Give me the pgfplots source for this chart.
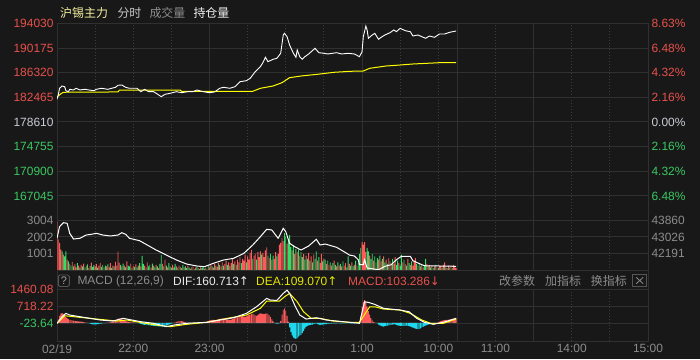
\documentclass[border=0pt]{standalone}
\usepackage{pgfplots}
\pgfplotsset{compat=1.18}
\usepackage{pgfplotstable}
\usepackage{fontspec}
\setmainfont{Liberation Sans}
\newfontfamily\cjk{Noto Sans CJK SC}
\newfontfamily\dvs{DejaVu Sans}

\definecolor{bgc}{HTML}{181818}
\definecolor{gridc}{HTML}{303030}
\definecolor{dotc}{HTML}{3C3C3C}
\definecolor{boxc}{HTML}{555555}
\definecolor{lblred}{HTML}{E8504B}
\definecolor{lblgrn}{HTML}{3BC862}
\definecolor{lblgray}{HTML}{8C8C8C}
\definecolor{lbllight}{HTML}{C8CCD4}
\definecolor{upred}{HTML}{FF5A5A}
\definecolor{dngrn}{HTML}{33DD66}
\definecolor{cyanb}{HTML}{1ED8EE}
\definecolor{avgy}{HTML}{FFFF00}
\definecolor{hdryel}{HTML}{F4F0A0}

\pgfplotstableread[row sep=\\]{m v c\\
0 2900 1\\ 1 1850 1\\ 2 1650 1\\ 3 1250 1\\ 4 1150 0\\ 5 950 1\\ 6 850 0\\ 7 1150 0\\ 8 650 1\\ 9 550 0\\
10 420 1\\ 11 300 0\\ 12 520 1\\ 13 250 0\\ 14 380 1\\ 15 200 1\\ 16 450 0\\ 17 300 1\\ 18 180 0\\ 19 350 1\\
20 250 0\\ 21 420 1\\ 22 200 0\\ 23 300 1\\ 24 380 0\\ 25 150 1\\ 26 280 0\\ 27 480 1\\ 28 220 0\\ 29 330 0\\
30 250 1\\ 31 400 1\\ 32 180 0\\ 33 300 1\\ 34 450 1\\ 35 220 0\\ 36 350 0\\ 37 200 1\\ 38 300 0\\ 39 260 1\\
40 380 0\\ 41 200 1\\ 42 450 1\\ 43 170 0\\ 44 300 1\\ 45 250 0\\ 46 520 1\\ 47 300 1\\ 48 1125 1\\ 49 480 1\\
50 350 0\\ 51 250 1\\ 52 420 0\\ 53 300 1\\ 54 200 0\\ 55 560 1\\ 56 300 0\\ 57 250 0\\ 58 420 1\\ 59 180 0\\
60 300 1\\ 61 230 0\\ 62 380 1\\ 63 200 0\\ 64 300 1\\ 65 450 0\\ 66 250 1\\ 67 880 0\\ 68 400 0\\ 69 300 1\\
70 200 0\\ 71 500 1\\ 72 250 0\\ 73 350 0\\ 74 180 1\\ 75 420 0\\ 76 300 1\\ 77 200 0\\ 78 350 1\\ 79 250 0\\
80 150 1\\ 81 400 0\\ 82 930 0\\ 83 400 1\\ 84 250 0\\ 85 650 1\\ 86 300 0\\ 87 200 1\\ 88 450 0\\ 89 250 1\\
90 150 0\\ 91 350 1\\ 92 200 0\\ 93 400 0\\ 94 250 1\\ 95 180 0\\ 96 300 1\\ 97 220 0\\ 98 150 1\\ 99 350 0\\
100 200 1\\ 101 250 0\\ 102 150 0\\ 103 300 1\\ 104 180 0\\ 105 120 1\\ 106 200 0\\ 107 250 1\\ 108 100 0\\ 109 180 1\\
110 220 0\\ 111 150 1\\ 112 100 0\\ 113 200 1\\ 114 150 0\\ 115 250 0\\ 116 120 1\\ 117 180 0\\ 118 100 1\\ 119 300 0\\
120 200 1\\ 121 350 1\\ 122 250 0\\ 123 180 1\\ 124 400 1\\ 125 300 0\\ 126 220 1\\ 127 450 1\\ 128 350 0\\ 129 250 1\\
130 500 1\\ 131 300 0\\ 132 400 1\\ 133 600 1\\ 134 350 0\\ 135 500 1\\ 136 280 0\\ 137 450 1\\ 138 700 1\\ 139 400 0\\
140 550 1\\ 141 350 0\\ 142 650 1\\ 143 500 1\\ 144 800 1\\ 145 450 0\\ 146 700 1\\ 147 600 1\\ 148 950 1\\ 149 500 0\\
150 850 1\\ 151 650 1\\ 152 1050 1\\ 153 1240 1\\ 154 700 0\\ 155 900 1\\ 156 1000 1\\ 157 650 0\\ 158 1100 1\\ 159 800 1\\
160 1150 1\\ 161 950 0\\ 162 1050 1\\ 163 800 1\\ 164 1200 1\\ 165 1385 1\\ 166 900 0\\ 167 750 1\\ 168 1000 0\\ 169 650 1\\
170 900 0\\ 171 700 1\\ 172 1100 1\\ 173 850 0\\ 174 1000 1\\ 175 1550 1\\ 176 1650 1\\ 177 1935 1\\ 178 1750 1\\ 179 2230 0\\
180 2013 0\\ 181 1600 1\\ 182 1800 0\\ 183 2113 0\\ 184 1400 0\\ 185 1200 1\\ 186 1500 0\\ 187 1000 1\\ 188 1300 0\\ 189 1100 1\\
190 1250 0\\ 191 900 1\\ 192 1100 0\\ 193 800 0\\ 194 1000 1\\ 195 650 0\\ 196 900 1\\ 197 700 0\\ 198 1050 1\\ 199 600 0\\
200 850 1\\ 201 500 0\\ 202 950 1\\ 203 700 0\\ 204 1150 0\\ 205 600 1\\ 206 800 0\\ 207 450 1\\ 208 1000 1\\ 209 550 0\\
210 700 1\\ 211 650 0\\ 212 400 1\\ 213 600 0\\ 214 350 1\\ 215 500 0\\ 216 300 1\\ 217 450 0\\ 218 600 1\\ 219 350 0\\
220 250 1\\ 221 500 0\\ 222 300 1\\ 223 400 0\\ 224 250 1\\ 225 550 0\\ 226 300 1\\ 227 450 1\\ 228 200 0\\ 229 850 0\\
230 400 1\\ 231 300 0\\ 232 500 1\\ 233 250 0\\ 234 350 1\\ 235 600 0\\ 236 300 1\\ 237 450 0\\ 238 1000 0\\ 239 1346 0\\
240 1700 1\\ 241 1540 1\\ 242 1700 1\\ 243 1100 1\\ 244 1346 0\\ 245 1150 0\\ 246 900 1\\ 247 700 0\\ 248 1000 0\\ 249 600 1\\
250 850 0\\ 251 500 1\\ 252 750 0\\ 253 650 1\\ 254 900 0\\ 255 550 1\\ 256 700 0\\ 257 850 1\\ 258 500 0\\ 259 650 1\\
260 400 0\\ 261 750 1\\ 262 550 0\\ 263 450 1\\ 264 700 0\\ 265 400 1\\ 266 800 1\\ 267 350 0\\ 268 600 0\\ 269 450 1\\
270 300 0\\ 271 950 0\\ 272 500 1\\ 273 650 0\\ 274 400 1\\ 275 300 0\\ 276 700 1\\ 277 450 0\\ 278 350 1\\ 279 550 0\\
280 300 1\\ 281 600 1\\ 282 750 1\\ 283 400 0\\ 284 300 1\\ 285 450 0\\ 286 250 1\\ 287 350 0\\ 288 200 1\\ 289 300 0\\
290 700 0\\ 291 400 1\\ 292 250 0\\ 293 350 1\\ 294 200 0\\ 295 300 1\\ 296 150 0\\ 297 250 1\\ 298 350 0\\ 299 200 1\\
300 150 0\\ 301 300 1\\ 302 250 1\\ 303 180 0\\ 304 350 1\\ 305 500 1\\ 306 200 0\\ 307 150 1\\ 308 300 1\\ 309 200 0\\
310 250 1\\ 311 150 0\\ 312 350 1\\ 313 200 1\\ 314 150 1\\
}\voltable

\pgfplotstableread[row sep=\\]{m h\\
0 0\\ 1 150\\ 2 300\\ 3 400\\ 4 420\\ 5 380\\ 6 320\\ 7 260\\ 8 200\\ 9 160\\
10 130\\ 11 110\\ 12 100\\ 13 90\\ 14 80\\ 15 70\\ 16 60\\ 17 55\\ 18 50\\ 19 45\\
20 40\\ 21 30\\ 22 20\\ 23 10\\ 24 0\\ 25 -20\\ 26 -40\\ 27 -55\\ 28 -65\\ 29 -70\\
30 -70\\ 31 -65\\ 32 -60\\ 33 -55\\ 34 -50\\ 35 -40\\ 36 -30\\ 37 -20\\ 38 -15\\ 39 -10\\
40 0\\ 41 10\\ 42 20\\ 43 30\\ 44 40\\ 45 60\\ 46 90\\ 47 130\\ 48 180\\ 49 190\\
50 170\\ 51 150\\ 52 120\\ 53 100\\ 54 80\\ 55 60\\ 56 50\\ 57 40\\ 58 30\\ 59 20\\
60 15\\ 61 10\\ 62 5\\ 63 0\\ 64 -10\\ 65 -30\\ 66 -50\\ 67 -70\\ 68 -80\\ 69 -90\\
70 -100\\ 71 -95\\ 72 -105\\ 73 -115\\ 74 -120\\ 75 -125\\ 76 -130\\ 77 -140\\ 78 -145\\ 79 -150\\
80 -155\\ 81 -160\\ 82 -170\\ 83 -165\\ 84 -150\\ 85 -130\\ 86 -120\\ 87 -100\\ 88 -80\\ 89 -60\\
90 -40\\ 91 -20\\ 92 0\\ 93 20\\ 94 40\\ 95 60\\ 96 70\\ 97 75\\ 98 70\\ 99 60\\
100 40\\ 101 20\\ 102 0\\ 103 -20\\ 104 -30\\ 105 -35\\ 106 -30\\ 107 -25\\ 108 -20\\ 109 -10\\
110 0\\ 111 5\\ 112 10\\ 113 10\\ 114 15\\ 115 20\\ 116 25\\ 117 30\\ 118 60\\ 119 80\\
120 100\\ 121 110\\ 122 120\\ 123 130\\ 124 120\\ 125 110\\ 126 130\\ 127 150\\ 128 170\\ 129 180\\
130 190\\ 131 180\\ 132 170\\ 133 160\\ 134 150\\ 135 140\\ 136 130\\ 137 140\\ 138 160\\ 139 180\\
140 200\\ 141 220\\ 142 240\\ 143 260\\ 144 280\\ 145 300\\ 146 290\\ 147 270\\ 148 250\\ 149 280\\
150 310\\ 151 330\\ 152 350\\ 153 380\\ 154 400\\ 155 360\\ 156 320\\ 157 300\\ 158 340\\ 159 380\\
160 410\\ 161 400\\ 162 380\\ 163 370\\ 164 400\\ 165 410\\ 166 380\\ 167 320\\ 168 250\\ 169 150\\
170 60\\ 171 0\\ 172 -30\\ 173 -40\\ 174 -35\\ 175 -20\\ 176 80\\ 177 350\\ 178 560\\ 179 620\\
180 500\\ 181 300\\ 182 50\\ 183 -200\\ 184 -400\\ 185 -550\\ 186 -640\\ 187 -680\\ 188 -700\\ 189 -660\\
190 -600\\ 191 -560\\ 192 -520\\ 193 -450\\ 194 -350\\ 195 -250\\ 196 -180\\ 197 -130\\ 198 -110\\ 199 -100\\
200 -90\\ 201 -80\\ 202 -70\\ 203 -50\\ 204 -40\\ 205 -60\\ 206 -80\\ 207 -90\\ 208 -85\\ 209 -80\\
210 -70\\ 211 -60\\ 212 -55\\ 213 -50\\ 214 -45\\ 215 -40\\ 216 -35\\ 217 -30\\ 218 -30\\ 219 -25\\
220 -25\\ 221 -20\\ 222 -20\\ 223 -25\\ 224 -30\\ 225 -30\\ 226 -25\\ 227 -20\\ 228 -20\\ 229 -15\\
230 -20\\ 231 -25\\ 232 -30\\ 233 -30\\ 234 -25\\ 235 -20\\ 236 -15\\ 237 -10\\ 238 0\\ 239 300\\
240 700\\ 241 900\\ 242 980\\ 243 900\\ 244 700\\ 245 500\\ 246 350\\ 247 200\\ 248 100\\ 249 40\\
250 20\\ 251 0\\ 252 -30\\ 253 -80\\ 254 -110\\ 255 -140\\ 256 -160\\ 257 -170\\ 258 -150\\ 259 -130\\
260 -120\\ 261 -110\\ 262 -100\\ 263 -90\\ 264 -80\\ 265 -60\\ 266 -70\\ 267 -90\\ 268 -110\\ 269 -120\\
270 -130\\ 271 -140\\ 272 -150\\ 273 -140\\ 274 -130\\ 275 -120\\ 276 -130\\ 277 -150\\ 278 -170\\ 279 -190\\
280 -210\\ 281 -230\\ 282 -250\\ 283 -265\\ 284 -270\\ 285 -260\\ 286 -240\\ 287 -210\\ 288 -180\\ 289 -150\\
290 -120\\ 291 -100\\ 292 -80\\ 293 -60\\ 294 -40\\ 295 -30\\ 296 -20\\ 297 -10\\ 298 0\\ 299 10\\
300 20\\ 301 50\\ 302 70\\ 303 90\\ 304 100\\ 305 110\\ 306 120\\ 307 130\\ 308 140\\ 309 150\\
310 160\\ 311 170\\ 312 180\\ 313 185\\ 314 190\\
}\macdtable

\pgfplotsset{
  panel/.style={
    scale only axis, width=591bp, xmin=0, xmax=465,
    scaled x ticks=false, scaled y ticks=false,
    axis line style={draw=gridc, line width=1bp},
    xtick={120,240,315,375}, xticklabels={},
    minor xtick={30,60,90,150,180,210,270,300,345,405,435},
    xmajorgrids, xminorgrids, ymajorgrids,
    major grid style={draw=gridc, line width=0.9bp},
    minor grid style={draw=dotc, dash pattern=on 1bp off 2bp, line width=0.9bp},
    major tick length=0pt, minor tick length=0pt,
    tick style={draw=none},
    ticklabel style={font=\fontsize{12}{14}\selectfont},
  },
  rightax/.style={
    scale only axis, width=591bp, xmin=0, xmax=465,
    scaled x ticks=false, scaled y ticks=false,
    hide x axis, axis y line*=right, y axis line style={draw=none},
    tick style={draw=none}, major tick length=0pt,
    ticklabel style={font=\fontsize{12}{14}\selectfont},
  },
}

\begin{document}
\begin{tikzpicture}[x=1bp,y=1bp]
\fill[bgc, use as bounding box] (0,0) rectangle (700,359);

% ---------- price panel ----------
\begin{axis}[panel, at={(57bp,138.4bp)}, anchor=south west, height=197.3bp,
  ymin=163190, ymax=194030,
  ytick={167045,170900,174755,178610,182465,186320,190175,194030},
  yticklabels={\textcolor{lblgrn}{167045},\textcolor{lblgrn}{170900},\textcolor{lblgrn}{174755},\textcolor{lbllight}{178610},\textcolor{lblred}{182465},\textcolor{lblred}{186320},\textcolor{lblred}{190175},\textcolor{lblred}{194030}}]
\addplot[avgy, line width=1bp] coordinates {
(0,182511) (3,183000) (5,183250) (48,183300) (49,183574) (97,183574) (98,183402) (154,183402)
(160,183870) (170,184230) (177,184746) (183,185527) (192,185793) (205,186059) (218,186371)
(231,186528) (241,186574) (246,186996) (259,187356) (270,187512) (280,187669) (301,187872) (314,187872)};
\addplot[white, line width=0.9bp] coordinates {
(0,182151) (1,182823) (2,183870) (4,184230) (6,184121) (7,183495) (9,183339) (10,183714)
(13,183605) (15,183870) (18,183605) (22,183714) (25,183605) (29,183495) (31,183714) (35,183870)
(40,183714) (46,184027) (48,184339) (51,184386) (54,184027) (57,183870) (63,183870) (66,183339)
(69,183714) (72,183339) (76,183339) (78,183089) (82,182558) (85,182933) (89,183089) (94,183339)
(98,183183) (103,183339) (107,183339) (110,183605) (115,183339) (120,183183) (124,183292) (128,183870)
(131,184027) (136,183870) (140,184121) (144,184902) (149,185058) (152,185433) (156,186465) (160,187247)
(162,187872) (164,188716) (166,188028) (170,188403) (173,188559) (176,189341) (178,192201) (179,192467)
(181,191936) (183,190638) (186,189341) (188,188716) (189,189857) (191,188810) (193,188403) (195,188810)
(198,189232) (203,190122) (206,189435) (210,189341) (213,189232) (220,189435) (224,189232) (229,189341)
(234,189232) (238,188810) (240,189591) (241,191936) (243,193608) (244,192983) (245,191685) (248,192201)
(250,192467) (253,191529) (255,191842) (258,192201) (262,192561) (265,192983) (267,192717) (270,193248)
(274,192873) (278,192717) (280,192045) (284,192201) (290,191685) (293,192045) (297,191842) (301,192358)
(305,192358) (309,192623) (314,192826)};
\end{axis}
\begin{axis}[rightax, at={(57bp,138.4bp)}, anchor=south west, height=197.3bp,
  ymin=163190, ymax=194030,
  ytick={167045,170900,174755,178610,182465,186320,190175,194030},
  yticklabels={\textcolor{lblgrn}{6.48\%},\textcolor{lblgrn}{4.32\%},\textcolor{lblgrn}{2.16\%},\textcolor{lbllight}{0.00\%},\textcolor{lblred}{2.16\%},\textcolor{lblred}{4.32\%},\textcolor{lblred}{6.48\%},\textcolor{lblred}{8.63\%}}]
\end{axis}

% ---------- volume panel ----------
\begin{axis}[panel, at={(57bp,88.3bp)}, anchor=south west, height=50.7bp,
  ymin=0, ymax=3004, ytick={1001,2002,3004},
  yticklabels={\textcolor{lblgray}{1001},\textcolor{lblgray}{2002},\textcolor{lblgray}{3004}}]
\addplot[ybar, bar width=0.72, bar shift=0pt, fill=upred, draw=none]
  table[x=m, y expr={\thisrow{v}*\thisrow{c}}] {\voltable};
\addplot[ybar, bar width=0.72, bar shift=0pt, fill=dngrn, draw=none]
  table[x=m, y expr={\thisrow{v}*(1-\thisrow{c})}] {\voltable};
\end{axis}
\begin{axis}[rightax, at={(57bp,88.3bp)}, anchor=south west, height=50.7bp,
  ymin=41356.5, ymax=43860, ytick={42191,43026,43860},
  yticklabels={\textcolor{lblgray}{42191},\textcolor{lblgray}{43026},\textcolor{lblgray}{43860}}]
\addplot[white, line width=1bp] coordinates {
(0,42956) (2,43529) (5,43727) (8,43697) (10,43203) (13,42921) (18,42956) (23,43119) (27,43154)
(31,43203) (36,43119) (42,43070) (48,43119) (51,43233) (54,43154) (57,42956) (65,42837) (71,42625)
(78,42378) (86,42131) (94,41884) (102,41686) (110,41588) (116,41553) (123,41721) (131,41884)
(139,41968) (147,42215) (154,42625) (160,43035) (165,43401) (169,43366) (174,42956) (178,43450)
(180,43282) (183,42709) (187,42541) (192,42378) (198,42576) (204,42907) (207,42625) (211,42674)
(220,42511) (228,42215) (230,42131) (234,42082) (237,41899) (238,41652) (241,41652) (242,41899)
(244,41489) (253,41405) (258,41573) (263,41652) (267,41899) (271,42067) (278,42067) (280,41850)
(284,41736) (289,41602) (314,41573)};
\end{axis}

% ---------- MACD header row ----------
\draw[gridc, line width=1bp] (57,70) rectangle (648,88.3);
\draw[draw=boxc, line width=0.9bp, rounded corners=1.5bp] (58.3,72.5) rectangle (69.3,84);
\node[inner sep=0, text=lblgray!80!white, font=\fontsize{11}{13}\selectfont] at (63.8,78.2) {?};
\node[anchor=west, inner sep=0, text=lblgray, font=\fontsize{12}{14}\selectfont] at (77.3,78) {MACD (12,26,9)};
\node[anchor=west, inner sep=0, text=white!92!black, font=\fontsize{12}{14}\selectfont] at (173,78) {DIF:160.713{\dvs ↑}};
\node[anchor=west, inner sep=0, text=avgy!90!black, font=\fontsize{12}{14}\selectfont] at (256,78) {DEA:109.070{\dvs ↑}};
\node[anchor=west, inner sep=0, text=lblred, font=\fontsize{12}{14}\selectfont] at (348,78) {MACD:103.286{\dvs ↓}};
\node[anchor=west, inner sep=0, text=lblgray, font=\cjk\fontsize{12}{14}\selectfont] at (499,78) {改参数};
\node[anchor=west, inner sep=0, text=lblgray, font=\cjk\fontsize{12}{14}\selectfont] at (545,78) {加指标};
\node[anchor=west, inner sep=0, text=lblgray, font=\cjk\fontsize{12}{14}\selectfont] at (590.7,78) {换指标};
\draw[draw=boxc, line width=0.9bp] (632.7,72.3) rectangle (646.7,84.7);
\draw[draw=lblgray, line width=0.8bp] (636.2,75.3) -- (643.2,81.7) (636.2,81.7) -- (643.2,75.3);

% ---------- MACD panel ----------
\begin{axis}[panel, at={(57bp,18bp)}, anchor=south west, height=52bp,
  ymin=-789, ymax=1460.08, ytick={-23.64,718.22,1460.08},
  yticklabels={\textcolor{lblgrn}{-23.64},\textcolor{lblred}{718.22},\textcolor{lblred}{1460.08}},
  extra x ticks={0,60,120,180,240,300,345,405,465},
  extra x tick labels={02/19,22:00,23:00,0:00,1:00,10:00,11:00,14:00,15:00},
  extra x tick style={grid=none, xticklabel style={text=lblgray}}]
\addplot[ybar, bar width=0.72, bar shift=0pt, fill=upred, draw=none]
  table[x=m, y expr={max(\thisrow{h},0)}] {\macdtable};
\addplot[ybar, bar width=0.72, bar shift=0pt, fill=cyanb, draw=none]
  table[x=m, y expr={min(\thisrow{h},0)}] {\macdtable};
\addplot[avgy, line width=1bp] coordinates {
(0,-24) (6,304) (18,235) (31,162) (47,75) (55,119) (65,20) (78,-97) (89,-170) (102,-67) (118,20)
(134,192) (149,334) (160,623) (165,937) (175,937) (179,1123) (183,1269) (189,907) (194,476) (200,192)
(207,192) (217,75) (230,20) (238,20) (246,692) (250,692) (257,593) (270,550) (278,407) (287,119)
(294,-24) (304,-24) (314,162)};
\addplot[white, line width=1bp] coordinates {
(0,-24) (4,261) (7,407) (10,334) (18,261) (26,192) (34,119) (44,75) (52,192) (56,148) (66,45)
(76,-24) (86,-170) (92,-97) (102,-24) (118,20) (128,119) (139,218) (149,407) (157,692) (165,1054)
(168,981) (173,967) (178,1269) (181,1411) (183,1269) (187,765) (191,334) (196,162) (204,218)
(212,119) (230,20) (238,-24) (242,907) (245,881) (250,795) (257,623) (270,550) (277,476) (283,192)
(289,20) (296,-67) (304,20) (314,192)};
\end{axis}

% ---------- top header ----------
\node[anchor=west, inner sep=0, text=hdryel, font=\cjk\fontsize{12}{14}\selectfont] at (60,345.7) {沪锡主力};
\node[anchor=west, inner sep=0, text=white!78!black, font=\cjk\fontsize{12}{14}\selectfont] at (117.3,345.7) {分时};
\node[anchor=west, inner sep=0, text=lblgray, font=\cjk\fontsize{12}{14}\selectfont] at (149.3,345.7) {成交量};
\node[anchor=west, inner sep=0, text=white!94!black, font=\cjk\fontsize{12}{14}\selectfont] at (193.3,345.7) {持仓量};
\end{tikzpicture}
\end{document}
